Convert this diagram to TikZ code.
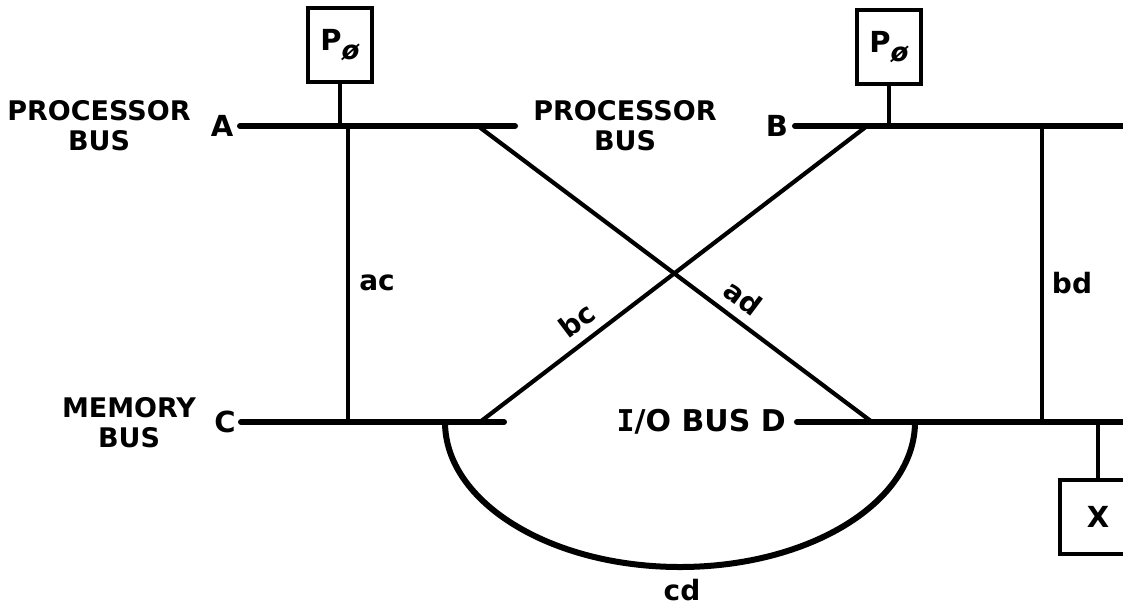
\documentclass[tikz,border=0pt]{standalone}
\usepackage{fontspec}
\setmainfont{DejaVu Sans}
\newfontfamily\monofam{DejaVu Sans Mono}
\begin{document}
\begin{tikzpicture}[x=1pt,y=-1pt,
  bus/.style={line width=6pt, line cap=round},
  link/.style={line width=4.2pt},
  stem/.style={line width=3.6pt},
  box/.style={draw, line width=4pt, minimum width=64pt, minimum height=74pt, inner sep=0pt,
    font=\fontsize{29}{30}\selectfont\bfseries},
  buslabel/.style={font=\fontsize{27}{30}\selectfont\bfseries, align=center, inner sep=0pt},
  letter/.style={font=\fontsize{29}{30}\selectfont\bfseries, inner sep=0pt},
  small/.style={font=\fontsize{28}{30}\selectfont\bfseries, inner sep=0pt}]
\useasboundingbox (0,0) rectangle (1123,605);

% bus end points
\coordinate (A0) at (240,126); \coordinate (A1) at (515,126);
\coordinate (B0) at (795,126); \coordinate (B1) at (1130,126);
\coordinate (C0) at (241,422); \coordinate (C1) at (504,422);
\coordinate (D0) at (797,422); \coordinate (D1) at (1130,422);

% bus labels
\node[buslabel] (labA) at (99,126) {PROCESSOR\\BUS};
\node[letter] (A) at (222,126) {A};
\node[buslabel] (labB) at (625,126) {PROCESSOR\\BUS};
\node[letter] (B) at (777,126) {B};
\node[buslabel] (labC) at (129,423) {MEMORY\\BUS};
\node[letter] (C) at (225,422) {C};
\node[letter, anchor=east, font=\fontsize{30}{30}\selectfont\bfseries] (D) at (786,422) {{\monofam I}/O BUS D};

% buses
\draw[bus] (A0) -- (A1);
\draw[bus] (B0) -- (B1);
\draw[bus] (C0) -- (C1);
\draw[bus] (D0) -- (D1);

% processors and device
\node[box] (P1) at (340,45) {P\raisebox{-9pt}{\fontsize{26}{26}\selectfont\itshape ø}};
\node[box] (P2) at (889,47) {P\raisebox{-9pt}{\fontsize{26}{26}\selectfont\itshape ø}};
\node[box, minimum width=76pt, minimum height=74pt] (X) at (1098,517) {X};
\draw[stem] (P1.south) -- (P1.south |- A0);
\draw[stem] (P2.south) -- (P2.south |- B0);
\draw[stem] (X.north) -- (X.north |- D0);

% links
\coordinate (acT) at (348,126); \coordinate (acB) at (348,422);
\coordinate (bdT) at (1042,126); \coordinate (bdB) at (1042,422);
\coordinate (adT) at (478,126); \coordinate (adB) at (872,422);
\coordinate (bcT) at (867,126); \coordinate (bcB) at (480,422);
\coordinate (cdL) at (445,422); \coordinate (cdR) at (915,422);

\draw[stem] (acT) -- (acB);
\draw[stem] (bdT) -- (bdB);
\draw[link] (adT) -- (adB);
\draw[link] (bcT) -- (bcB);
\draw[bus, line cap=butt] (cdL) arc[start angle=180, end angle=360, x radius=235pt, y radius=145pt];

\node[small] (ac) at (377,283) {ac};
\node[small] (bd) at (1072,283) {bd};
\node[small, rotate=37] (bc) at (577,320) {bc};
\node[small, rotate=-37] (ad) at (743,298) {ad};
\node[small] (cd) at (682,590) {cd};
\end{tikzpicture}
\end{document}
